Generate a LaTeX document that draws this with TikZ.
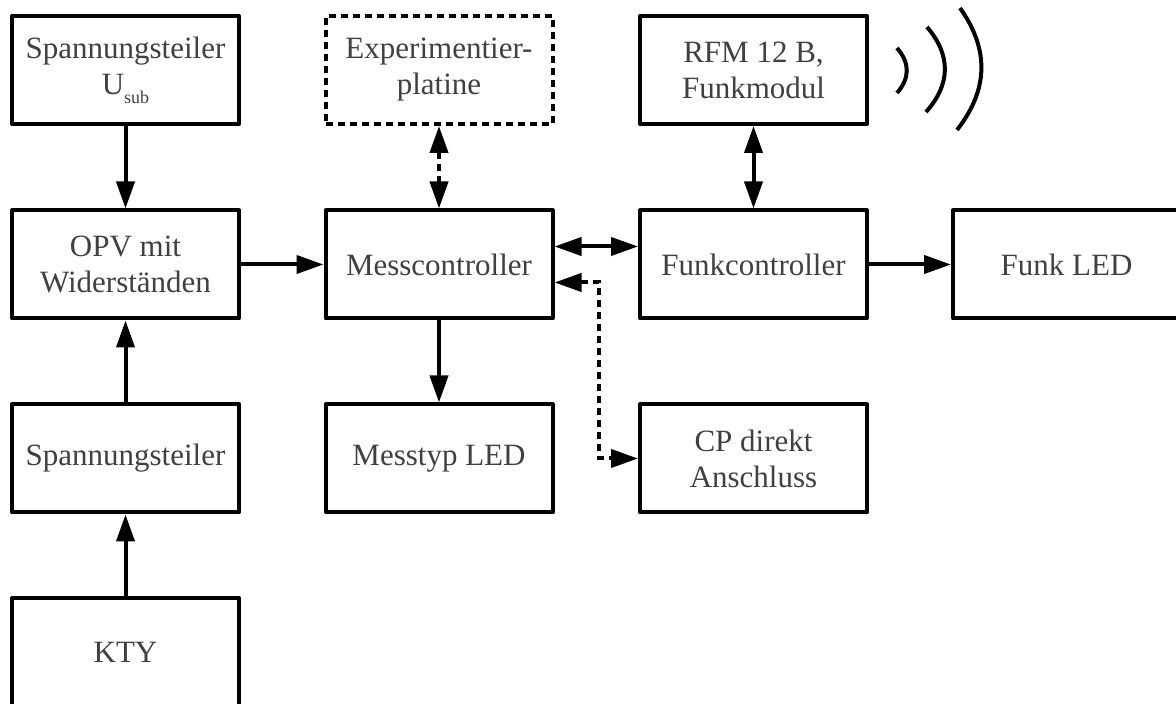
\documentclass[tikz,border=0pt]{standalone}
\usepackage{fontspec}
\setmainfont{Liberation Serif}
\usetikzlibrary{arrows.meta,calc}
\definecolor{txt}{RGB}{64,64,64}
\begin{document}
\begin{tikzpicture}[x=0.5pt,y=-0.5pt,
  >={Triangle[length=13.5pt,width=9pt]},
  box/.style={draw, line width=2pt, line join=round, minimum width=113.5pt, minimum height=54pt,
    inner sep=0pt, align=center, text=txt, font=\fontsize{15.5}{18}\selectfont},
  dbox/.style={box, dash pattern=on 3.5pt off 2.5pt},
  conn/.style={line width=2pt},
  dline/.style={line width=2pt, dash pattern=on 3.5pt off 2.5pt},
  wave/.style={line width=2pt}
]
\useasboundingbox (0,0) rectangle (1176,704);

\node[box]  (usub) at (125.5,70)   {Spannungsteiler\\U\raisebox{-4.5pt}{\fontsize{9}{9}\selectfont sub}};
\node[dbox] (exp)  at (439,70)     {Experimentier-\\platine};
\node[box]  (rfm)  at (753.5,70)   {RFM 12 B,\\Funkmodul};
\node[box]  (opv)  at (125.5,264.5) {OPV mit\\Widerständen};
\node[box]  (mess) at (439,264.5)  {Messcontroller};
\node[box]  (funk) at (753.5,264.5) {Funkcontroller};
\node[box]  (fled) at (1066.5,264.5) {Funk LED};
\node[box]  (sp)   at (125.5,458.5) {Spannungsteiler};
\node[box]  (mled) at (439,458.5)  {Messtyp LED};
\node[box]  (cp)   at (753.5,458.5) {CP direkt\\Anschluss};
\node[box]  (kty)  at (125.5,652)  {KTY};

\draw[conn,->] (usub.south) -- (opv.north);
\draw[conn,->] (sp.north) -- (opv.south);
\draw[conn,->] (kty.north) -- (sp.south);
\draw[conn,->] (opv.east) -- (mess.west);
\draw[conn,->] (funk.east) -- (fled.west);
\draw[conn,->] (mess.south) -- (mled.north);
\draw[conn,<->] ([yshift=9pt]mess.east) -- ([yshift=9pt]funk.west);
\draw[conn,<->] (rfm.south) -- (funk.north);
\draw[dline,<->] (exp.south) -- (mess.north);
\draw[dline,<->] ([yshift=-9pt]mess.east) -- ++(44,0) |- (cp.west);

\draw[wave] (897,48) .. controls (910,63) and (910,78) .. (897,93);
\draw[wave] (927,27) .. controls (951,55) and (951,84) .. (926,112);
\draw[wave] (960,8) .. controls (989,49) and (989,89) .. (957,130);
\end{tikzpicture}
\end{document}
